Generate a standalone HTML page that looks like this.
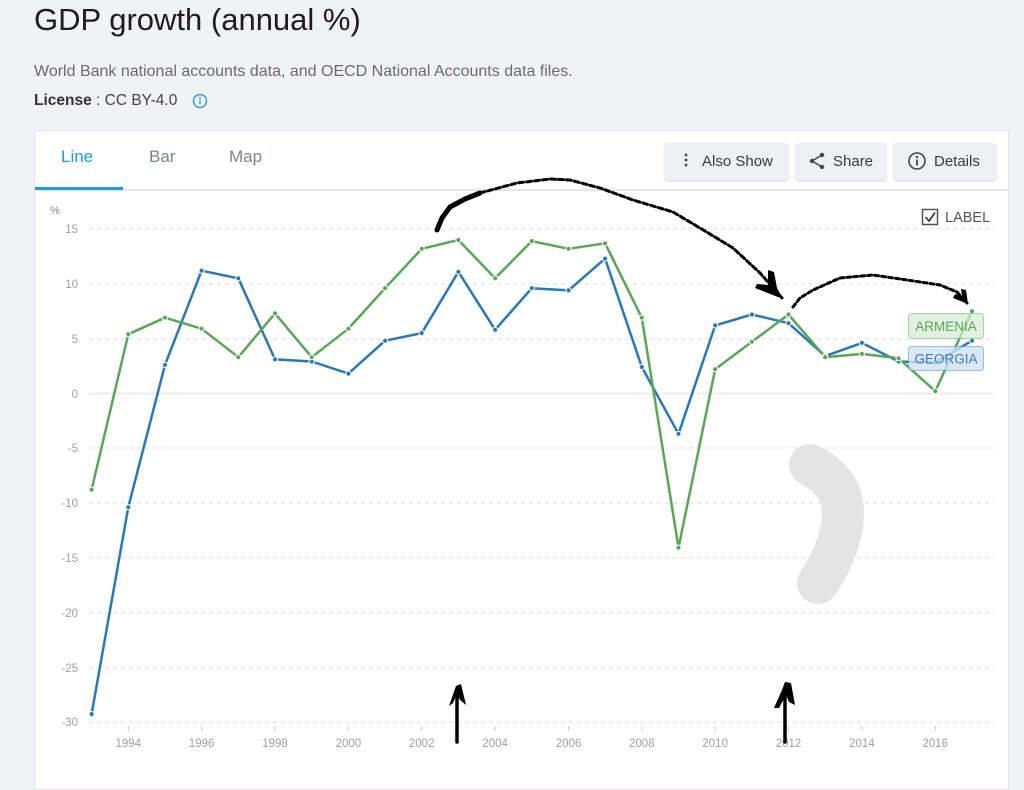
<!DOCTYPE html>
<html><head><meta charset="utf-8">
<style>
html,body{margin:0;padding:0;}
body{width:1024px;height:780px;background:#f1f2f6;position:relative;overflow:hidden;font-family:"Liberation Sans",sans-serif;}
.abs{position:absolute;white-space:nowrap;}
#title{left:34px;top:0px;font-size:31px;color:#1d1d1f;line-height:40px;}
#sub{left:34px;top:62px;font-size:16px;color:#6b6b6b;line-height:20px;}
#lic{left:34px;top:91px;font-size:15.5px;color:#444;line-height:20px;}
#lic b{color:#333;}
#card{left:34px;top:130px;width:975px;height:660px;background:#fff;border:1px solid #e2e5e9;box-sizing:border-box;}
.tab{top:146px;font-size:17px;line-height:22px;color:#7b8591;}
.btn{top:143px;height:37px;background:#eef0f3;border-radius:2px;box-shadow:0 1px 2px rgba(0,0,0,0.18);font-size:15px;color:#3a3a3a;line-height:37px;box-sizing:border-box;}
</style></head><body>
<div id="title" class="abs">GDP growth (annual %)</div>
<div id="sub" class="abs">World Bank national accounts data, and OECD National Accounts data files.</div>
<div id="lic" class="abs"><b>License</b> : CC BY-4.0</div>
<svg class="abs" style="left:192px;top:93px" width="16" height="16"><circle cx="8" cy="8" r="6.5" fill="none" stroke="#2e9be0" stroke-width="1.4"/><circle cx="8" cy="5" r="1" fill="#2e9be0"/><rect x="7.3" y="6.8" width="1.4" height="4.5" fill="#2e9be0"/></svg>
<div id="card" class="abs"></div>
<div class="abs tab" style="left:61px;color:#1f9be2;">Line</div>
<div class="abs tab" style="left:149px;">Bar</div>
<div class="abs tab" style="left:229px;">Map</div>
<div class="abs" style="left:35px;top:189px;width:973px;height:2px;background:#e3e6ea;"></div>
<div class="abs" style="left:35px;top:187px;width:88px;height:3px;background:#1f9be2;"></div>

<div class="abs btn" style="left:665px;width:123px;padding-left:37px;">Also Show</div>
<svg class="abs" style="left:680px;top:152px" width="12" height="18"><circle cx="6" cy="3" r="1.4" fill="#444"/><circle cx="6" cy="8" r="1.4" fill="#444"/><circle cx="6" cy="13" r="1.4" fill="#444"/></svg>
<div class="abs btn" style="left:796px;width:90px;padding-left:37px;">Share</div>
<svg class="abs" style="left:808px;top:151px" width="20" height="20"><circle cx="14" cy="4" r="2.2" fill="#444"/><circle cx="4" cy="10" r="2.2" fill="#444"/><circle cx="14" cy="16" r="2.2" fill="#444"/><path d="M14 4 L4 10 L14 16" fill="none" stroke="#444" stroke-width="1.6"/></svg>
<div class="abs btn" style="left:894px;width:102px;padding-left:40px;">Details</div>
<svg class="abs" style="left:907px;top:151px" width="20" height="20"><circle cx="10" cy="10" r="8" fill="none" stroke="#444" stroke-width="1.6"/><circle cx="10" cy="6" r="1.2" fill="#444"/><rect x="9.1" y="8.5" width="1.8" height="6" fill="#444"/></svg>

<svg class="abs" style="left:0;top:0" width="1024" height="780">
  <rect x="922.5" y="209.5" width="15" height="15" fill="#fff" stroke="#555" stroke-width="1.5"/>
  <path d="M925.5 217 L929 221 L935 212.5" fill="none" stroke="#333" stroke-width="1.7"/>
  <text x="945" y="222" font-family="Liberation Sans, sans-serif" font-size="14.5" fill="#555">LABEL</text>
  <text x="50" y="214" font-family="Liberation Sans, sans-serif" font-size="11" fill="#888">%</text>

  <g stroke="#dcdcdc" stroke-width="1" stroke-dasharray="4 4">
    <line x1="89" y1="229" x2="994" y2="229"/>
    <line x1="89" y1="284" x2="994" y2="284"/>
    <line x1="89" y1="339" x2="994" y2="339"/>
    <line x1="89" y1="448" x2="994" y2="448"/>
    <line x1="89" y1="503" x2="994" y2="503"/>
    <line x1="89" y1="558" x2="994" y2="558"/>
    <line x1="89" y1="613" x2="994" y2="613"/>
    <line x1="89" y1="667.5" x2="994" y2="667.5"/>
    <line x1="89" y1="722" x2="994" y2="722"/>
  </g>
  <line x1="89" y1="393.5" x2="994" y2="393.5" stroke="#e6e8eb" stroke-width="1.5"/>
  <g font-family="Liberation Sans, sans-serif" font-size="11.5" fill="#a0a0a0" text-anchor="end">
    <text x="78" y="233">15</text>
    <text x="78" y="288">10</text>
    <text x="78" y="343">5</text>
    <text x="78" y="398">0</text>
    <text x="78" y="452">-5</text>
    <text x="78" y="507">-10</text>
    <text x="78" y="562">-15</text>
    <text x="78" y="617">-20</text>
    <text x="78" y="672">-25</text>
    <text x="78" y="726">-30</text>
  </g>
  <g stroke="#cfcfcf" stroke-width="1">
    <line x1="128.3" y1="726" x2="128.3" y2="731"/><line x1="201.6" y1="726" x2="201.6" y2="731"/>
    <line x1="275" y1="726" x2="275" y2="731"/><line x1="348.4" y1="726" x2="348.4" y2="731"/>
    <line x1="421.7" y1="726" x2="421.7" y2="731"/><line x1="495.1" y1="726" x2="495.1" y2="731"/>
    <line x1="568.5" y1="726" x2="568.5" y2="731"/><line x1="641.8" y1="726" x2="641.8" y2="731"/>
    <line x1="715.2" y1="726" x2="715.2" y2="731"/><line x1="788.5" y1="726" x2="788.5" y2="731"/>
    <line x1="861.9" y1="726" x2="861.9" y2="731"/><line x1="935.3" y1="726" x2="935.3" y2="731"/>
  </g>
  <g font-family="Liberation Sans, sans-serif" font-size="11.5" fill="#a0a0a0" text-anchor="middle">
    <text x="128.3" y="747">1994</text><text x="201.6" y="747">1996</text><text x="275" y="747">1998</text>
    <text x="348.4" y="747">2000</text><text x="421.7" y="747">2002</text><text x="495.1" y="747">2004</text>
    <text x="568.5" y="747">2006</text><text x="641.8" y="747">2008</text><text x="715.2" y="747">2010</text>
    <text x="788.5" y="747">2012</text><text x="861.9" y="747">2014</text><text x="935.3" y="747">2016</text>
  </g>

  <path d="M810,465 Q843,482 843,512 Q843,545 818,583" fill="none" stroke="#e4e4e4" stroke-width="42" stroke-linecap="round" stroke-linejoin="round"/>

  <polyline fill="none" stroke="#2a78b6" stroke-width="2.5" stroke-linejoin="round" points="91.6,714.1 128.3,507.2 165,364.8 201.6,270.7 238.3,278.3 275,359.4 311.7,361.5 348.4,373.6 385.1,340.7 421.7,333.1 458.4,271.8 495.1,329.8 531.8,288.2 568.5,290.4 605.1,258.6 641.8,367 678.5,433.8 715.2,325.4 751.9,314.5 788.5,323.2 825.2,356.1 861.9,342.9 898.6,361.5 935.3,362.6 972,340.7"/>
  <polyline fill="none" stroke="#5ba55b" stroke-width="2.5" stroke-linejoin="round" points="91.6,489.7 128.3,334.2 165,317.7 201.6,328.7 238.3,357.2 275,313.4 311.7,357.2 348.4,328.7 385.1,288.2 421.7,248.8 458.4,240 495.1,278.3 531.8,241.1 568.5,248.8 605.1,243.3 641.8,317.7 678.5,547.7 715.2,369.2 751.9,341.8 788.5,314.5 825.2,357.2 861.9,353.9 898.6,358.3 935.3,391.1 972,311.2"/>
  <g fill="#2a78b6" stroke="#fff" stroke-width="1">
    <circle cx="91.6" cy="714.1" r="2.6"/><circle cx="128.3" cy="507.2" r="2.6"/><circle cx="165" cy="364.8" r="2.6"/><circle cx="201.6" cy="270.7" r="2.6"/><circle cx="238.3" cy="278.3" r="2.6"/><circle cx="275" cy="359.4" r="2.6"/><circle cx="311.7" cy="361.5" r="2.6"/><circle cx="348.4" cy="373.6" r="2.6"/><circle cx="385.1" cy="340.7" r="2.6"/><circle cx="421.7" cy="333.1" r="2.6"/><circle cx="458.4" cy="271.8" r="2.6"/><circle cx="495.1" cy="329.8" r="2.6"/><circle cx="531.8" cy="288.2" r="2.6"/><circle cx="568.5" cy="290.4" r="2.6"/><circle cx="605.1" cy="258.6" r="2.6"/><circle cx="641.8" cy="367" r="2.6"/><circle cx="678.5" cy="433.8" r="2.6"/><circle cx="715.2" cy="325.4" r="2.6"/><circle cx="751.9" cy="314.5" r="2.6"/><circle cx="788.5" cy="323.2" r="2.6"/><circle cx="825.2" cy="356.1" r="2.6"/><circle cx="861.9" cy="342.9" r="2.6"/><circle cx="898.6" cy="361.5" r="2.6"/><circle cx="935.3" cy="362.6" r="2.6"/><circle cx="972" cy="340.7" r="2.6"/>
  </g>
  <g fill="#5ba55b" stroke="#fff" stroke-width="1">
    <circle cx="91.6" cy="489.7" r="2.6"/><circle cx="128.3" cy="334.2" r="2.6"/><circle cx="165" cy="317.7" r="2.6"/><circle cx="201.6" cy="328.7" r="2.6"/><circle cx="238.3" cy="357.2" r="2.6"/><circle cx="275" cy="313.4" r="2.6"/><circle cx="311.7" cy="357.2" r="2.6"/><circle cx="348.4" cy="328.7" r="2.6"/><circle cx="385.1" cy="288.2" r="2.6"/><circle cx="421.7" cy="248.8" r="2.6"/><circle cx="458.4" cy="240" r="2.6"/><circle cx="495.1" cy="278.3" r="2.6"/><circle cx="531.8" cy="241.1" r="2.6"/><circle cx="568.5" cy="248.8" r="2.6"/><circle cx="605.1" cy="243.3" r="2.6"/><circle cx="641.8" cy="317.7" r="2.6"/><circle cx="678.5" cy="547.7" r="2.6"/><circle cx="715.2" cy="369.2" r="2.6"/><circle cx="751.9" cy="341.8" r="2.6"/><circle cx="788.5" cy="314.5" r="2.6"/><circle cx="825.2" cy="357.2" r="2.6"/><circle cx="861.9" cy="353.9" r="2.6"/><circle cx="898.6" cy="358.3" r="2.6"/><circle cx="935.3" cy="391.1" r="2.6"/><circle cx="972" cy="311.2" r="2.6"/>
  </g>

  <rect x="908.5" y="313.5" width="75" height="25" rx="3" fill="rgba(214,236,212,0.75)" stroke="rgba(91,165,91,0.45)" stroke-width="1"/>
  <text x="946" y="331" text-anchor="middle" font-family="Liberation Sans, sans-serif" font-size="13.5" fill="#5ba55b">ARMENIA</text>
  <rect x="908.5" y="346.5" width="75" height="24" rx="3" fill="rgba(207,225,243,0.78)" stroke="rgba(42,120,182,0.45)" stroke-width="1"/>
  <text x="946" y="363.5" text-anchor="middle" font-family="Liberation Sans, sans-serif" font-size="13.5" fill="#3a7dbf">GEORGIA</text>

  <g fill="none" stroke="#000" stroke-linecap="round" stroke-linejoin="round">
    <polyline stroke-width="5" points="437,230 442,218 450,207 465,199 480,193"/>
    <polyline stroke-width="3" stroke-dasharray="5 3" points="480,193 517,183 550,179 570,180 600,188 633,200 673,212 700,228 733,248 760,273 782,298"/>
    <polyline stroke-width="3" stroke-dasharray="4 3" points="793,307 800,298 813,290 840,278 873,275 907,280 940,285 957,292 967,303"/>
    <line x1="457" y1="742" x2="457" y2="692" stroke-width="3.5"/>
    <line x1="785" y1="742" x2="785" y2="690" stroke-width="3.5"/>
  </g>
  <g fill="#000">
    <polygon points="783,299 755,288 757,284 768,285 768,270 774,272 777,288"/>
    <polygon points="968,304 953,298 955,294 962,296 961,289 966,290"/>
    <polygon points="449,706 456,686 461,684 466,705 460,700 457,694 453,703"/>
    <polygon points="774,708 782,690 785,682 791,683 795,705 789,702 786,695 779,708"/>
  </g>
</svg>
</body></html>
